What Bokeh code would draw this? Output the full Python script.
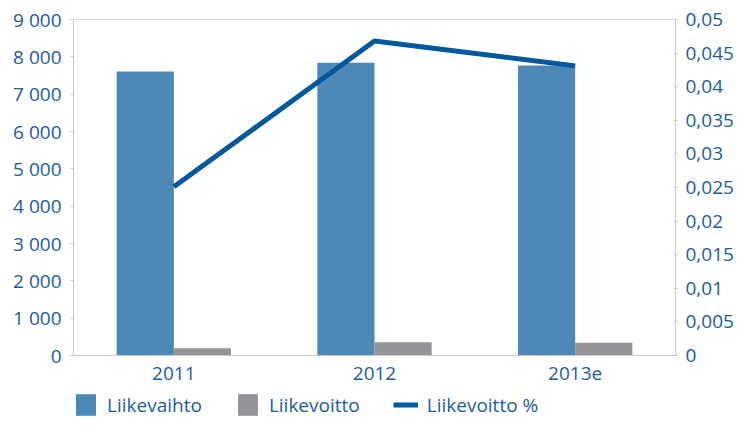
from bokeh.plotting import figure
from bokeh.layouts import column
from bokeh.models import (ColumnDataSource, FactorRange, Range1d, LinearAxis,
                          FixedTicker, CustomJSTickFormatter, Legend, LegendItem)
from bokeh.transform import dodge
from bokeh.embed import file_html
from bokeh.resources import INLINE

years = ["2011", "2012", "2013e"]
liikevaihto = [7610, 7840, 7770]
liikevoitto = [195, 355, 340]
liikevoitto_pct = [0.0251, 0.0468, 0.0431]

left_ticks = [0, 1000, 2000, 3000, 4000, 5000, 6000, 7000, 8000, 9000]
right_ticks = [0, 0.005, 0.01, 0.015, 0.02, 0.025, 0.03, 0.035, 0.04, 0.045, 0.05]
series_names = ["Liikevaihto", "Liikevoitto", "Liikevoitto %"]

FONT = "Open Sans"
TXT = "#1B5C99"
AXC = "#C8C8C8"
C_BAR1 = "#4E88B6"
C_BAR2 = "#939598"
C_LINE = "#03579B"

src = ColumnDataSource(dict(year=years, lv=liikevaihto, lvo=liikevoitto, pct=liikevoitto_pct))

p = figure(x_range=FactorRange(*years, range_padding=0), y_range=Range1d(0, 9000),
           width=736, height=391, output_backend="svg", toolbar_location=None,
           min_border_left=73, min_border_right=58, min_border_top=19, min_border_bottom=36)
p.extra_y_ranges = {"pct": Range1d(0, 0.05)}

p.xgrid.visible = False
p.ygrid.visible = False
p.outline_line_color = "#D9D9D9"
p.background_fill_color = "white"
p.border_fill_color = "white"

bw = 0.285
r1 = p.vbar(x=dodge("year", -bw / 2, range=p.x_range), top="lv", width=bw, source=src,
            fill_color=C_BAR1, line_color=None)
r2 = p.vbar(x=dodge("year", bw / 2, range=p.x_range), top="lvo", width=bw, source=src,
            fill_color=C_BAR2, line_color=None)
r3 = p.line(x="year", y="pct", source=src, y_range_name="pct", line_color=C_LINE,
            line_width=5)

# left axis
ya = p.yaxis[0]
ya.ticker = FixedTicker(ticks=left_ticks)
ya.formatter = CustomJSTickFormatter(code="return Math.round(tick).toString().replace(/\\B(?=(\\d{3})+(?!\\d))/g, ' ');")
ya.minor_tick_line_color = None
ya.major_tick_in = 0
ya.major_tick_out = 3
ya.major_label_standoff = 9
ya.axis_line_color = AXC
ya.major_tick_line_color = AXC
ya.major_label_text_color = TXT
ya.major_label_text_font = FONT
ya.major_label_text_font_size = "19px"

# right axis
ra = LinearAxis(y_range_name="pct", ticker=FixedTicker(ticks=right_ticks),
                formatter=CustomJSTickFormatter(code="var s = tick.toFixed(3).replace(/0+$/, '').replace(/\\.$/, ''); return s.replace('.', ',');"))
ra.minor_tick_line_color = None
ra.major_tick_in = 2
ra.major_tick_out = 2
ra.major_label_standoff = 8
ra.axis_line_color = AXC
ra.major_tick_line_color = AXC
ra.major_label_text_color = TXT
ra.major_label_text_font = FONT
ra.major_label_text_font_size = "19px"
p.add_layout(ra, "right")

# x axis
xa = p.xaxis[0]
xa.axis_line_color = AXC
xa.major_tick_line_color = None
xa.minor_tick_line_color = None
xa.major_label_standoff = 5
xa.major_label_text_color = TXT
xa.major_label_text_font = FONT
xa.major_label_text_font_size = "19px"

# legend strip: proxies share the chart's data, but the strip's y range keeps them out of view
lp = figure(x_range=FactorRange(*years, range_padding=0), y_range=Range1d(1e6, 2e6),
            width=736, height=27, output_backend="svg", toolbar_location=None,
            x_axis_type=None, y_axis_type=None,
            min_border_left=73, min_border_right=58, min_border_top=0, min_border_bottom=0)
lp.outline_line_color = None
lp.xgrid.visible = False
lp.ygrid.visible = False
lp.border_fill_color = "white"
lp.background_fill_color = "white"
e1 = lp.vbar(x="year", top="lv", width=0.1, source=src, fill_color=C_BAR1, line_color=None)
e2 = lp.vbar(x="year", top="lvo", width=0.1, source=src, fill_color=C_BAR2, line_color=None)
e3 = lp.line(x="year", y="pct", source=src, line_color=C_LINE, line_width=5)

leg = Legend(items=[LegendItem(label=series_names[0], renderers=[e1]),
                    LegendItem(label=series_names[1], renderers=[e2]),
                    LegendItem(label=series_names[2], renderers=[e3])],
             location=(0, 0))
leg.orientation = "horizontal"
leg.glyph_width = 25
leg.glyph_height = 27
leg.label_standoff = 9
leg.spacing = 33
leg.padding = 0
leg.margin = 0
leg.border_line_alpha = 0
leg.background_fill_alpha = 0
leg.label_text_font = FONT
leg.label_text_font_size = "19px"
leg.label_text_color = TXT
leg.label_height = 27
lp.add_layout(leg, "center")

layout = column(p, lp, spacing=0)
open("out.html", "w").write(file_html(layout, INLINE))
